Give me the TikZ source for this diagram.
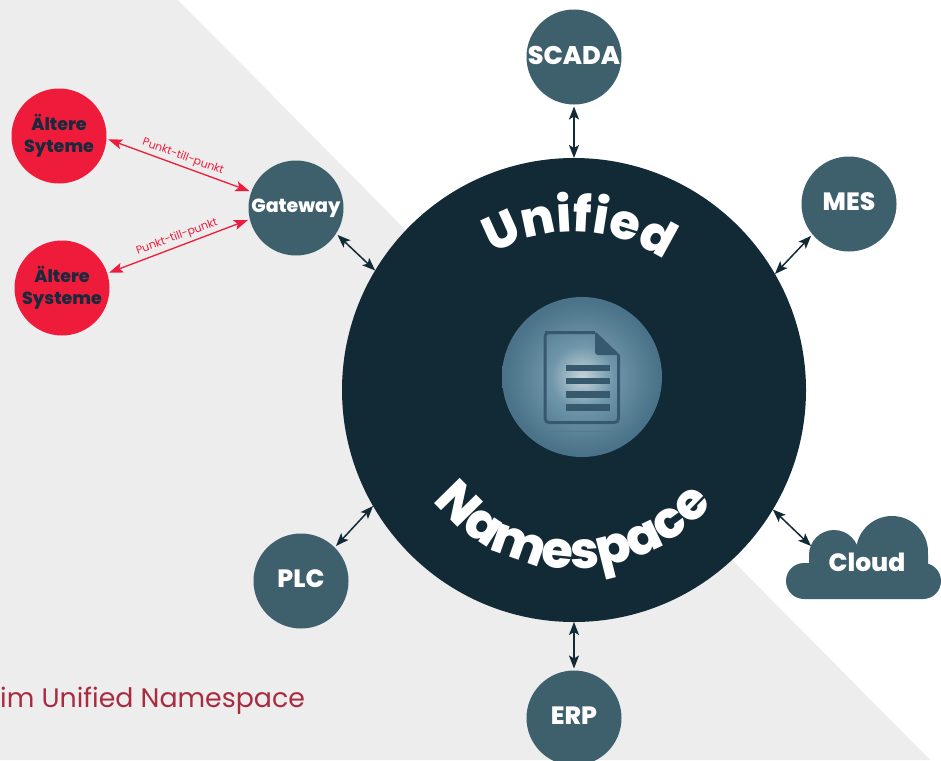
\documentclass[tikz,border=0pt]{standalone}
\usepackage{fontspec}
\setmainfont{Poppins}[BoldFont={Poppins ExtraBold}]
\usetikzlibrary{arrows.meta,decorations.text,shadings}
\definecolor{hubc}{HTML}{122936}
\definecolor{nodec}{HTML}{3E5F6C}
\definecolor{redc}{HTML}{EF1B3B}
\definecolor{greyc}{HTML}{EDEDED}
\definecolor{inkc}{HTML}{1A2A3C}
\definecolor{wine}{HTML}{A92B40}
\definecolor{docc}{HTML}{36596E}
\definecolor{glowa}{HTML}{C6D4DB}
\definecolor{glowb}{HTML}{6E95A9}
\definecolor{glowc}{HTML}{4A7288}
\pgfdeclareradialshading{orb}{\pgfpoint{0bp}{0bp}}{color(0bp)=(glowa); color(10bp)=(glowb); color(24bp)=(glowc); color(50bp)=(glowc)}
\tikzset{
  ball/.style={circle,minimum size=95pt,inner sep=0pt,outer sep=2pt,fill=nodec,text=white,font=\fontsize{#1}{#1}\selectfont\bfseries,align=center},
  redball/.style={circle,minimum size=95pt,inner sep=0pt,outer sep=2pt,fill=redc,text=inkc,font=\fontsize{17.5}{21}\selectfont\bfseries,align=center},
  link/.style={{Stealth[length=13pt,width=10pt,inset=3pt]}-{Stealth[length=13pt,width=10pt,inset=3pt]},line width=1.5pt,draw=hubc},
  redlink/.style={{Stealth[length=14pt,width=10pt,inset=3pt]}-{Stealth[length=14pt,width=10pt,inset=3pt]},line width=1.3pt,draw=redc},
  plabel/.style={text=redc,font=\fontsize{11}{12}\selectfont,inner sep=0pt},
  arctext/.style 2 args={decorate,decoration={text along path,text align=center,text color=white,text={|\fontsize{#1}{#1}\selectfont\bfseries|#2}}},
  docline/.style={fill=docc,draw=none}
}
\begin{document}
\begin{tikzpicture}[x=1pt,y=-1pt]
\useasboundingbox (0,0) rectangle (941,760);
\clip (0,0) rectangle (941,760);
\fill[white] (0,0) rectangle (941,760);
\fill[greyc] (0,0) -- (178,0) -- (930,760) -- (0,760) -- cycle;

\node[circle,minimum size=464pt,inner sep=0pt,outer sep=0pt,fill=hubc] (hub) at (574,390) {};

% central orb with document
\coordinate (orbc) at (582,377);
\shade[shading=orb] (orbc) circle[radius=80pt];
\draw[docc,line width=3pt,rounded corners=4pt] (595,332.5) -- (549,332.5) -- (545,332.5) -- (545,422.5) -- (618.5,422.5) -- (618.5,355) ;
\fill[docc] (595,331) -- (620,355) -- (599,355) [rounded corners=3pt] -- (595,355) -- cycle;
\fill[docline] (566,364.5) rectangle (610,371);
\fill[docline] (566,378) rectangle (610,384);
\fill[docline] (566,391) rectangle (610,397.5);
\fill[docline] (566,404) rectangle (610,410.5);
\fill[docc!45!glowb] (549,430.5) rectangle (617,431.5);

\path[arctext={49}{Unified}] (hub.center) ++(160:158pt) arc[start angle=160,end angle=16,radius=158pt];
\path[arctext={51}{Namespace}] (hub.center) ++(194.5:179pt) arc[start angle=194.5,end angle=344.5,radius=179pt];

\node[ball=25.5] (scada) at (574,57) {\raisebox{3.5pt}{SCADA}};
\node[ball=25] (mes) at (849,204) {\raisebox{4.5pt}{MES}};
\node[ball=19] (gateway) at (296,208) {\raisebox{4pt}{Gateway}};
\node[ball=25] (plc) at (301,581) {\raisebox{4.5pt}{PLC}};
\node[ball=25] (erp) at (574,718) {\raisebox{4.5pt}{ERP}};

\node[redball] (alta) at (59,136) {\raisebox{1pt}{Ältere}\\Syteme};
\node[redball] (altb) at (62,288) {\raisebox{1pt}{Ältere}\\Systeme};

% cloud
\fill[nodec] (804,581) circle[radius=18pt] (923,581) circle[radius=18pt]
  (834,555) circle[radius=25pt] (892,552) circle[radius=36pt]
  (804,563) rectangle (923,599) (809,555) rectangle (928,581);
\node[text=white,font=\fontsize{25}{25}\selectfont\bfseries,inner sep=0pt] (cloud) at (867,562) {Cloud};
\coordinate (cloudport) at (811,546);

\draw[link] (scada) -- (hub);
\draw[link] (erp) -- (hub);
\draw[link] (mes.220) -- (hub.30.8);
\draw[link] (gateway.-33) -- (hub.149.4);
\draw[link] (plc.45) -- (hub.210.9);
\draw[link] (cloudport) -- (hub.-31);

\draw[redlink] (alta.-4.5) -- (gateway.160.5);
\draw[redlink] (altb.18.4) -- (gateway.194);
\node[plabel,rotate=-20] (pa) at (183,157) {Punkt-till-punkt};
\node[plabel,rotate=20] (pb) at (177,237) {Punkt-till-punkt};

\node[anchor=base west,text=wine,inner sep=0pt,font=\fontsize{26.8}{27}\selectfont] (foot) at (0,707) {im Unified Namespace};
\end{tikzpicture}
\end{document}
